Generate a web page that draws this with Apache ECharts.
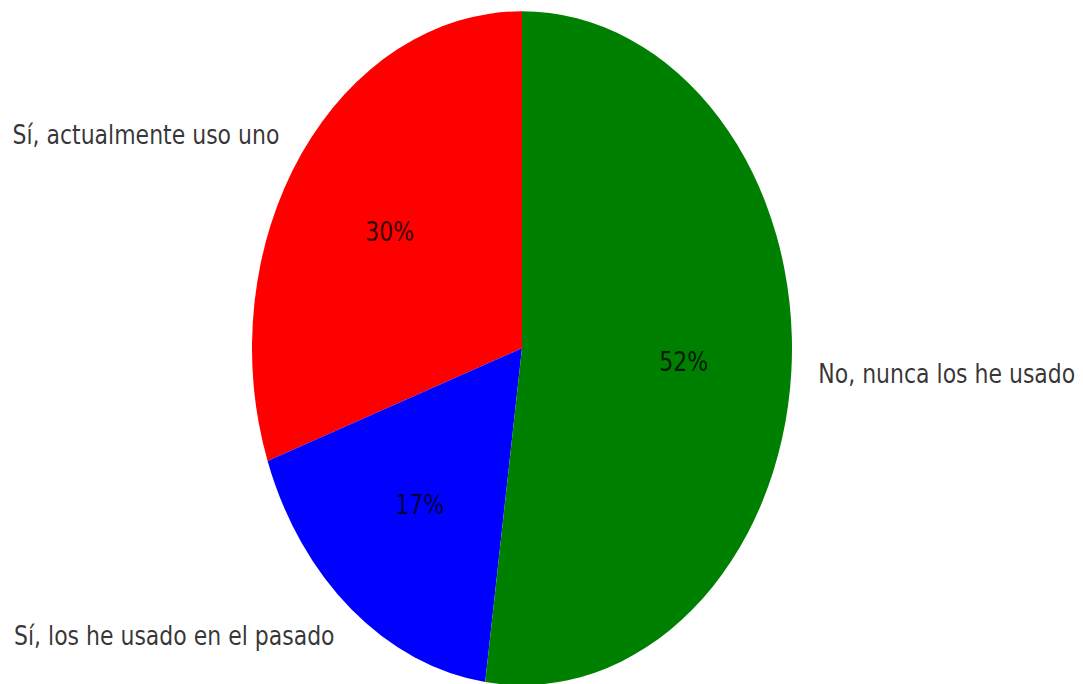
<!DOCTYPE html>
<html>
<head>
<meta charset="utf-8">
<script src="https://cdn.jsdelivr.net/npm/echarts@6/dist/echarts.min.js"></script>
<style>
  html, body { margin: 0; padding: 0; background: #ffffff; }
  #wrap { position: relative; width: 1083px; height: 684px; overflow: hidden; }
  /* the figure is displayed stretched vertically */
  #chart { position: absolute; left: 0; top: 0; width: 1083px; height: 548px;
           transform-origin: 0 0; transform: scaleY(1.248); }
</style>
</head>
<body>
<div id="wrap">
  <div id="chart"></div>
</div>
<script>
// Survey answers and their counts
const categories = ['Sí, actualmente uso uno', 'Sí, los he usado en el pasado', 'No, nunca los he usado'];
const counts = [7, 4, 12];
const colors = ['#ff0000', '#0000ff', '#008000'];

const W = 1083, H = 548;
const CX = 522, CY = 279;      // pie centre in pixels
const R = 270;                 // pie radius
const START = 90;              // first wedge starts at 12 o'clock, counter-clockwise

const total = counts.reduce((a, b) => a + b, 0);

// Label anchors in units of the pie radius: percentages at 0.6, names at 1.1
const pctPoints = [];
const namePoints = [];
let acc = 0;
counts.forEach((v, i) => {
  const frac = v / total;
  const mid = (START + 360 * (acc + frac / 2)) * Math.PI / 180;
  acc += frac;
  const c = Math.cos(mid), s = Math.sin(mid);
  pctPoints.push({ value: [0.6 * c, 0.6 * s], name: Math.round(frac * 100) + '%' });
  namePoints.push({
    value: [1.1 * c, 1.1 * s],
    name: categories[i],
    label: { align: c < 0 ? 'right' : 'left' }
  });
});

const font = { fontFamily: 'DejaVu Sans', fontSize: 22, color: '#000000' };

const chart = echarts.init(document.getElementById('chart'), null, { renderer: 'svg' });
chart.setOption({
  animation: false,
  grid: { left: 0, right: 0, top: 0, bottom: 0 },
  xAxis: { type: 'value', min: -CX / R, max: (W - CX) / R, show: false },
  yAxis: { type: 'value', min: -(H - CY) / R, max: CY / R, show: false },
  series: [
    {
      type: 'pie',
      center: [CX, CY],
      radius: [0, R],
      startAngle: START,
      clockwise: false,
      avoidLabelOverlap: false,
      label: { show: false },
      labelLine: { show: false },
      silent: true,
      itemStyle: { borderWidth: 0 },
      data: categories.map((name, i) => ({ name, value: counts[i], itemStyle: { color: colors[i] } }))
    },
    {
      type: 'scatter', symbolSize: 0, silent: true, z: 5,
      label: Object.assign({ show: true, position: 'inside', formatter: '{b}', align: 'center', verticalAlign: 'middle' }, font),
      data: pctPoints
    },
    {
      type: 'scatter', symbolSize: 0, silent: true, z: 5,
      label: Object.assign({ show: true, position: 'inside', formatter: '{b}', verticalAlign: 'middle' }, font),
      data: namePoints
    }
  ]
});
</script>
</body>
</html>
